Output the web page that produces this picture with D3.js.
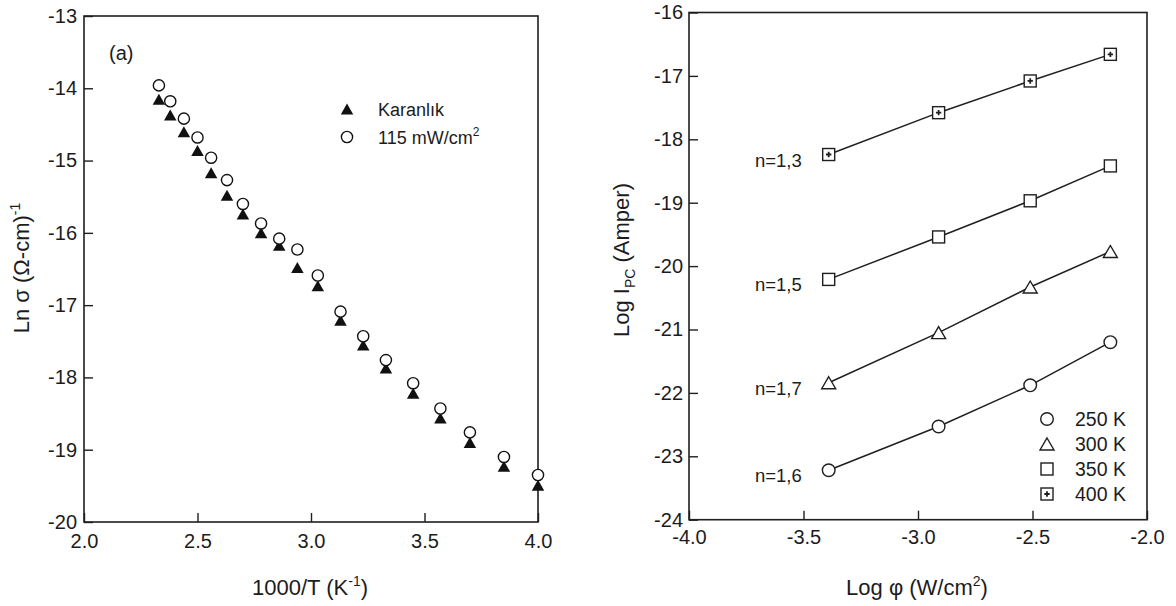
<!DOCTYPE html>
<html>
<head>
<meta charset="utf-8">
<script src="https://cdn.jsdelivr.net/npm/d3@7"></script>
<style>
  html, body { margin: 0; padding: 0; background: #fff; }
  svg { display: block; }
  text { font-family: "Liberation Sans", Arial, sans-serif; fill: #1c1c1c; }
</style>
</head>
<body>
<svg id="chart" width="1176" height="606"></svg>
<script>
// ---- Panel (a): Arrhenius plot of conductivity ----
const invT = [2.33, 2.38, 2.44, 2.50, 2.56, 2.63, 2.70, 2.78, 2.86, 2.94, 3.03, 3.13, 3.23, 3.33, 3.45, 3.57, 3.70, 3.85, 4.00];
const lnSigmaDark = [-14.15, -14.37, -14.60, -14.86, -15.17, -15.48, -15.74, -16.00, -16.17, -16.48, -16.73, -17.21, -17.55, -17.87, -18.22, -18.56, -18.90, -19.23, -19.49];
const lnSigmaLight = [-13.96, -14.18, -14.42, -14.68, -14.96, -15.27, -15.60, -15.87, -16.08, -16.23, -16.59, -17.09, -17.43, -17.76, -18.08, -18.43, -18.76, -19.10, -19.35];
const legendA = ["Karanlık", "115 mW/cm"];
const ticksAx = [2.0, 2.5, 3.0, 3.5, 4.0];
const ticksAy = [-20, -19, -18, -17, -16, -15, -14, -13];

// ---- Panel (b): photocurrent vs. light intensity ----
const logPhi = [-3.39, -2.91, -2.51, -2.16];
const temps = ["250 K", "300 K", "350 K", "400 K"];
const logI250 = [-23.22, -22.53, -21.88, -21.20];
const logI300 = [-21.84, -21.05, -20.33, -19.77];
const logI350 = [-20.21, -19.54, -18.97, -18.42];
const logI400 = [-18.24, -17.58, -17.08, -16.66];
const nLabels = ["n=1,6", "n=1,7", "n=1,5", "n=1,3"];
const ticksBx = [-4.0, -3.5, -3.0, -2.5, -2.0];
const ticksBy = [-24, -23, -22, -21, -20, -19, -18, -17, -16];

const INK = "#1f1f1f";
const svg = d3.select("#chart");

const xA = d3.scaleLinear().domain([2, 4]).range([84, 538]);
const yA = d3.scaleLinear().domain([-20, -13]).range([522, 16]);
const xB = d3.scaleLinear().domain([-4, -2]).range([689, 1147]);
const yB = d3.scaleLinear().domain([-24, -16]).range([519.7, 12.5]);

function triPath(w, h) {
  return `M0,${-h / 2}L${w / 2},${h / 2}L${-w / 2},${h / 2}Z`;
}

function drawAxes(x, y, xt, yt, xPad, yPad) {
  const g = svg.append("g");
  const ax = g.append("g").attr("transform", `translate(0,${y.range()[0]})`)
    .call(d3.axisBottom(x).tickValues(xt).tickSizeInner(-9).tickSizeOuter(0)
      .tickPadding(xPad).tickFormat(d => d.toFixed(1)));
  const ay = g.append("g").attr("transform", `translate(${x.range()[0]},0)`)
    .call(d3.axisLeft(y).tickValues(yt).tickSizeInner(-9).tickSizeOuter(0)
      .tickPadding(yPad).tickFormat(d => String(d)));
  [ax, ay].forEach(a => {
    a.select(".domain").remove();
    a.selectAll(".tick line").attr("stroke", INK).attr("stroke-width", 1.4);
    a.selectAll(".tick text").attr("font-size", 20).attr("fill", INK)
      .style("font-family", '"Liberation Sans", Arial, sans-serif');
  });
  g.append("rect")
    .attr("x", x.range()[0]).attr("y", y.range()[1])
    .attr("width", x.range()[1] - x.range()[0])
    .attr("height", y.range()[0] - y.range()[1])
    .attr("fill", "none").attr("stroke", INK).attr("stroke-width", 1.6);
}

// ----- Panel (a) -----
drawAxes(xA, yA, ticksAx, ticksAy, 12, 7);

const gA = svg.append("g");
gA.selectAll("path.dark").data(invT).join("path")
  .attr("class", "dark")
  .attr("transform", (d, i) => `translate(${xA(d)},${yA(lnSigmaDark[i])})`)
  .attr("d", triPath(12.5, 11))
  .attr("fill", "#111");
gA.selectAll("circle.light").data(invT).join("circle")
  .attr("class", "light")
  .attr("cx", d => xA(d)).attr("cy", (d, i) => yA(lnSigmaLight[i]))
  .attr("r", 5.6)
  .attr("fill", "#fff").attr("stroke", "#111").attr("stroke-width", 1.4);

svg.append("text").attr("x", 109).attr("y", 60).attr("font-size", 20).text("(a)");

// legend (a)
svg.append("path").attr("transform", "translate(347,109)").attr("d", triPath(12.5, 11)).attr("fill", "#111");
svg.append("circle").attr("cx", 347).attr("cy", 137).attr("r", 5.6)
  .attr("fill", "#fff").attr("stroke", "#111").attr("stroke-width", 1.4);
svg.append("text").attr("x", 378).attr("y", 115.5).attr("font-size", 18).text(legendA[0]);
const lt = svg.append("text").attr("x", 378).attr("y", 143.5).attr("font-size", 18);
lt.append("tspan").text(legendA[1]);
lt.append("tspan").attr("dy", -8).attr("font-size", 12).text("2");

// axis titles (a)
const xtA = svg.append("text").attr("x", 310).attr("y", 595).attr("text-anchor", "middle").attr("font-size", 22);
xtA.append("tspan").text("1000/T (K");
xtA.append("tspan").attr("dy", -9).attr("font-size", 14).text("-1");
xtA.append("tspan").attr("dy", 9).text(")");

const ytA = svg.append("text").attr("transform", "translate(29,268) rotate(-90)")
  .attr("text-anchor", "middle").attr("font-size", 22);
ytA.append("tspan").text("Ln σ (Ω-cm)");
ytA.append("tspan").attr("dy", -9).attr("font-size", 14).text("-1");

// ----- Panel (b) -----
drawAxes(xB, yB, ticksBx, ticksBy, 10, 6);

const seriesB = [logI250, logI300, logI350, logI400];
const line = d3.line().x((d, i) => xB(logPhi[i])).y(d => yB(d));
const gB = svg.append("g");
seriesB.forEach(s => {
  gB.append("path").attr("d", line(s)).attr("fill", "none")
    .attr("stroke", INK).attr("stroke-width", 1.5);
});

function drawSymbol(g, k, cx, cy) {
  if (k === 0) {
    g.append("circle").attr("cx", cx).attr("cy", cy).attr("r", 6.3)
      .attr("fill", "#fff").attr("stroke", INK).attr("stroke-width", 1.4);
  } else if (k === 1) {
    g.append("path").attr("transform", `translate(${cx},${cy})`).attr("d", triPath(14, 12))
      .attr("fill", "#fff").attr("stroke", INK).attr("stroke-width", 1.4);
  } else {
    g.append("rect").attr("x", cx - 6).attr("y", cy - 6).attr("width", 12).attr("height", 12)
      .attr("fill", "#fff").attr("stroke", INK).attr("stroke-width", 1.4);
    if (k === 3) {
      g.append("path").attr("transform", `translate(${cx},${cy})`)
        .attr("d", d3.symbol(d3.symbolCross, 16)()).attr("fill", INK);
    }
  }
}

seriesB.forEach((s, k) => {
  s.forEach((v, i) => drawSymbol(gB, k, xB(logPhi[i]), yB(v)));
  svg.append("text")
    .attr("x", xB(logPhi[0]) - 27).attr("y", yB(s[0]) + 12)
    .attr("text-anchor", "end").attr("font-size", 18.5).text(nLabels[k]);
});

// legend (b)
temps.forEach((t, k) => {
  const cy = 419 + k * 25;
  drawSymbol(svg, k, 1047, cy);
  svg.append("text").attr("x", 1075).attr("y", cy + 7).attr("font-size", 19.5).text(t);
});

// axis titles (b)
const xtB = svg.append("text").attr("x", 917).attr("y", 595).attr("text-anchor", "middle").attr("font-size", 22);
xtB.append("tspan").text("Log φ (W/cm");
xtB.append("tspan").attr("dy", -9).attr("font-size", 14).text("2");
xtB.append("tspan").attr("dy", 9).text(")");

const ytB = svg.append("text").attr("transform", "translate(629,260) rotate(-90)")
  .attr("text-anchor", "middle").attr("font-size", 22);
ytB.append("tspan").text("Log I");
ytB.append("tspan").attr("dy", 6).attr("font-size", 14).text("PC");
ytB.append("tspan").attr("dy", -6).text(" (Amper)");
</script>
</body>
</html>
